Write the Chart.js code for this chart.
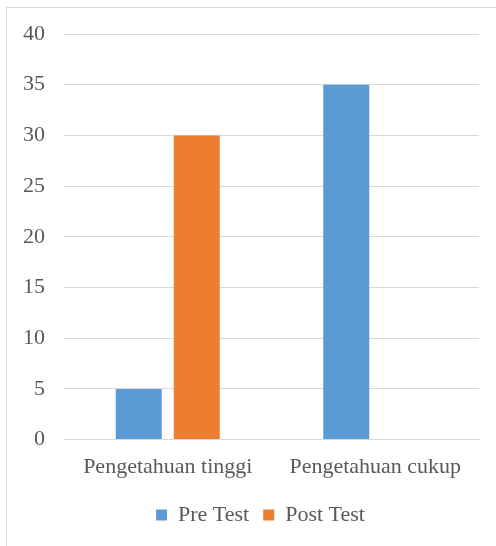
<!DOCTYPE html>
<html>
<head>
<meta charset="utf-8">
<script src="https://cdn.jsdelivr.net/npm/chart.js@4"></script>
<style>
  html, body { margin: 0; padding: 0; background: #fff; overflow: hidden; }
  #box { position: absolute; left: 6px; top: 7px; width: 510px; height: 560px; border: 1px solid #D9D9D9; background: #fff; }
  #box canvas { display: block; }
</style>
</head>
<body>
<div id="box"><canvas id="chart" width="510" height="560"></canvas></div>
<script>
var categories = ['Pengetahuan tinggi', 'Pengetahuan cukup'];
var preTest = [5, 35];
var postTest = [30, 0];
var yTicks = [0, 5, 10, 15, 20, 25, 30, 35, 40];

var font = { family: "'Liberation Serif', 'Times New Roman', serif", size: 22 };

// nudge the legend so it sits centred under the whole chart box, like Excel
var legendShift = {
	id: 'legendShift',
	afterLayout: function(chart) {
		chart.legend.left += 10;
		chart.legend.right += 10;
	}
};

var chart = new Chart(document.getElementById('chart'), {
	type: 'bar',
	data: {
		labels: categories,
		datasets: [
			{ label: 'Pre Test', data: preTest, backgroundColor: '#5B9BD5', borderWidth: 0 },
			{ label: 'Post Test', data: postTest, backgroundColor: '#ED7D31', borderWidth: 0 }
		]
	},
	options: {
		responsive: false,
		animation: false,
		categoryPercentage: 0.559,
		barPercentage: 0.793,
		layout: { padding: { top: 26, left: 15, right: 38, bottom: 32 } },
		plugins: {
			legend: {
				position: 'bottom',
				labels: { boxWidth: 11, boxHeight: 11, padding: 14, color: '#595959', font: font }
			},
			tooltip: { enabled: false }
		},
		scales: {
			x: {
				grid: { display: false, drawTicks: false },
				border: { display: true, color: '#D9D9D9' },
				ticks: { color: '#595959', font: font, padding: 14 },
				afterFit: function(axis) {
					axis.paddingLeft = 0;
					axis.paddingRight = 0;
					axis.height -= 4;
				}
			},
			y: {
				min: 0,
				max: 40,
				afterBuildTicks: function(axis) {
					axis.ticks = yTicks.map(function(v) { return { value: v }; });
				},
				grid: { color: '#D9D9D9', drawTicks: false },
				border: { display: false },
				ticks: { color: '#595959', font: font, padding: 19 },
				afterFit: function(axis) {
					axis.width = 42;
					axis.paddingTop = 0;
					axis.paddingBottom = 0;
				}
			}
		}
	},
	plugins: [legendShift]
});
</script>
</body>
</html>
